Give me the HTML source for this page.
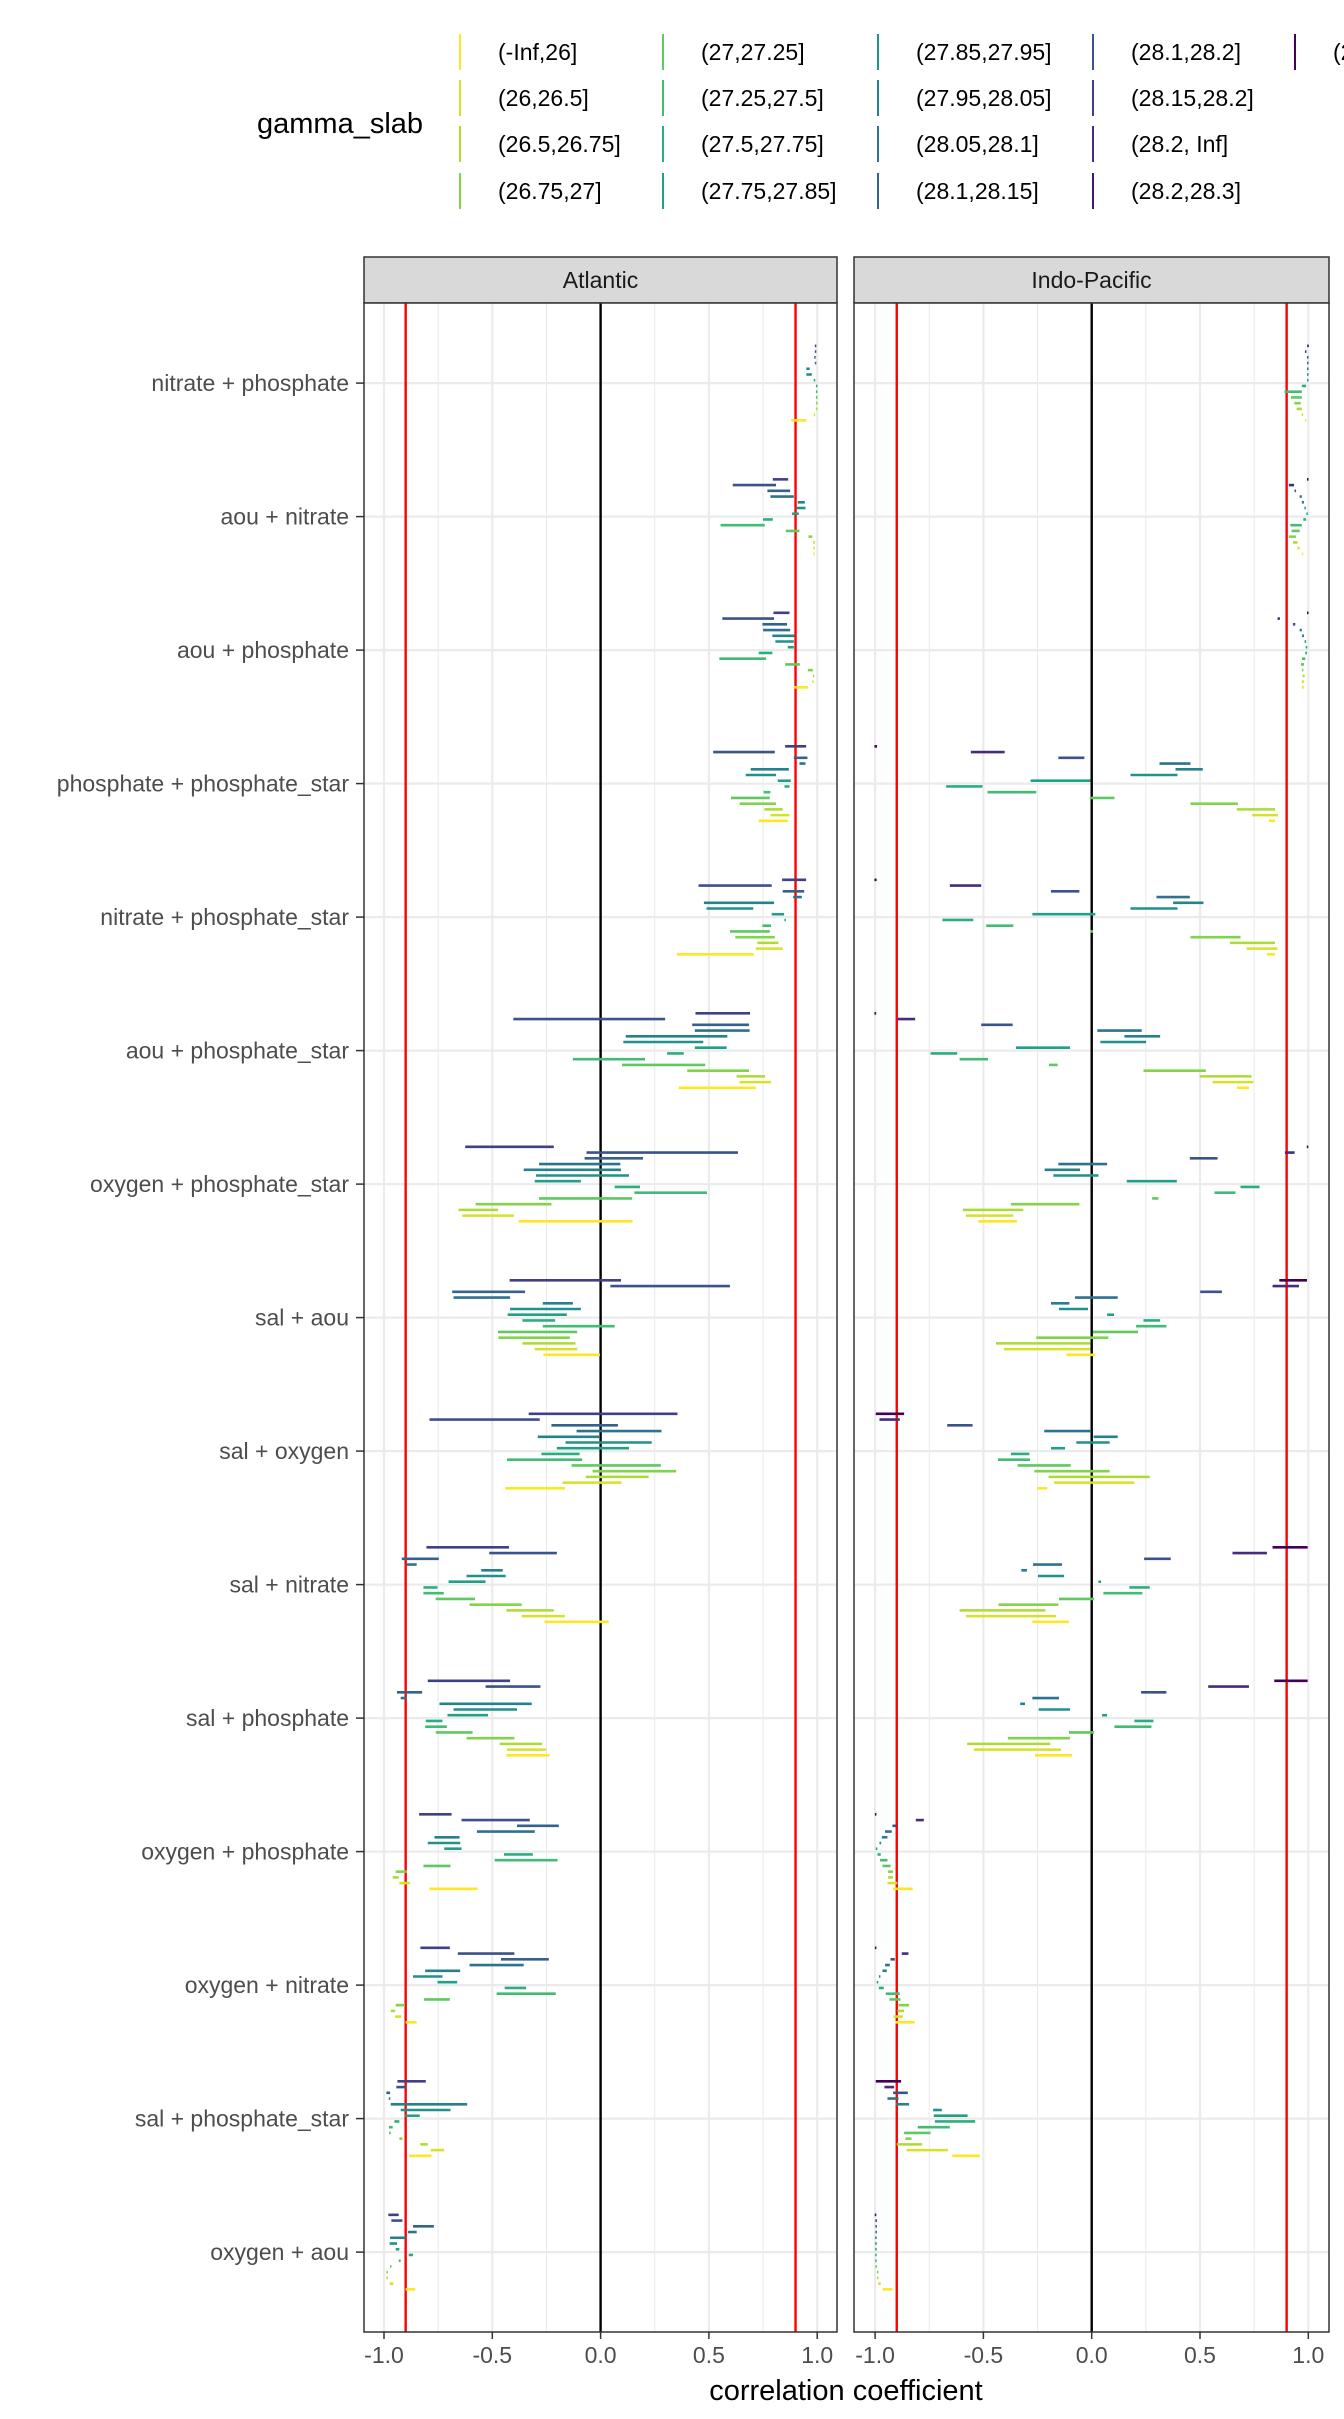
<!DOCTYPE html>
<html><head><meta charset="utf-8"><style>
html,body{margin:0;padding:0;background:#fff;}
svg{display:block;font-family:"Liberation Sans",Arial,sans-serif;}
</style></head><body>
<svg id="chart" width="1344" height="2419" viewBox="0 0 1344 2419" xmlns="http://www.w3.org/2000/svg">
<g id="legend"></g>
<g id="plot"></g>
</svg>
<script>
const categories = ["nitrate + phosphate","aou + nitrate","aou + phosphate","phosphate + phosphate_star","nitrate + phosphate_star","aou + phosphate_star","oxygen + phosphate_star","sal + aou","sal + oxygen","sal + nitrate","sal + phosphate","oxygen + phosphate","oxygen + nitrate","sal + phosphate_star","oxygen + aou"];
const panels = ["Atlantic","Indo-Pacific"];
const legendLabels = ["(-Inf,26]","(26,26.5]","(26.5,26.75]","(26.75,27]","(27,27.25]","(27.25,27.5]","(27.5,27.75]","(27.75,27.85]","(27.85,27.95]","(27.95,28.05]","(28.05,28.1]","(28.1,28.15]","(28.1,28.2]","(28.15,28.2]","(28.2, Inf]","(28.2,28.3]","(28.3,28.4]"];
const xTicks = [-1,-0.5,0,0.5,1];
const xTickLabels = ["-1.0","-0.5","0.0","0.5","1.0"];
const xMinor = [-0.75,-0.25,0.25,0.75];
const thresholds = [-0.9,0.9];
const atlanticRanges = [
[[.99,.995],[.99,.995],[.987,.992],[.99,.995],[.95,.965],[.95,.975],[.985,.99],[.995,1],[.995,1],[.995,1],[.995,1],[.995,1],[.985,.99],[.88,.95]],
[[.795,.866],[.61,.81],[.77,.875],[.784,.892],[.91,.943],[.903,.946],[.884,.915],[.75,.795],[.554,.758],[.855,.918],[.96,.977],[.983,.988],[.983,.988],[.983,.988]],
[[.798,.872],[.562,.801],[.747,.861],[.75,.875],[.793,.895],[.807,.892],[.864,.892],[.73,.793],[.548,.764],[.852,.92],[.957,.98],[.981,.986],[.977,.983],[.892,.957]],
[[.852,.949],[.52,.804],[.892,.955],[.918,.946],[.693,.869],[.67,.81],[.818,.878],[.849,.872],[.753,.784],[.602,.781],[.642,.81],[.756,.841],[.784,.872],[.73,.864]],
[[.838,.949],[.452,.79],[.841,.94],[.889,.929],[.477,.801],[.489,.705],[.79,.847],[.849,.855],[.747,.787],[.597,.781],[.622,.804],[.724,.821],[.716,.841],[.352,.707]],
[[.438,.69],[-.403,.298],[.423,.685],[.435,.688],[.116,.585],[.105,.474],[.435,.582],[.307,.384],[-.128,.205],[.099,.483],[.4,.685],[.628,.759],[.642,.787],[.361,.716]],
[[-.625,-.216],[-.065,.634],[-.074,.196],[-.284,.091],[-.355,.094],[-.298,.131],[-.304,-.091],[.065,.182],[.156,.491],[-.284,.145],[-.577,-.227],[-.656,-.474],[-.639,-.4],[-.378,.148]],
[[-.42,.094],[.045,.597],[-.685,-.349],[-.679,-.418],[-.267,-.128],[-.418,-.091],[-.429,-.156],[-.361,-.21],[-.267,.065],[-.474,-.108],[-.472,-.142],[-.361,-.116],[-.304,-.108],[-.264,-.003]],
[[-.332,.355],[-.79,-.281],[-.227,.08],[-.111,.281],[-.29,-.003],[-.162,.236],[-.202,.131],[-.273,-.097],[-.432,-.085],[-.134,.278],[-.037,.349],[-.068,.222],[-.176,.097],[-.44,-.165]],
[[-.804,-.423],[-.514,-.202],[-.918,-.747],[-.895,-.849],[-.551,-.452],[-.619,-.438],[-.702,-.531],[-.818,-.753],[-.818,-.724],[-.761,-.58],[-.605,-.364],[-.435,-.216],[-.364,-.165],[-.259,.037]],
[[-.798,-.418],[-.531,-.278],[-.94,-.824],[-.923,-.895],[-.744,-.318],[-.679,-.386],[-.707,-.52],[-.807,-.73],[-.81,-.71],[-.761,-.591],[-.619,-.398],[-.466,-.27],[-.432,-.253],[-.435,-.236]],
[[-.838,-.688],[-.642,-.327],[-.386,-.193],[-.571,-.304],[-.767,-.651],[-.798,-.648],[-.722,-.642],[-.446,-.313],[-.489,-.199],[-.818,-.693],[-.946,-.895],[-.96,-.932],[-.929,-.881],[-.79,-.568]],
[[-.832,-.696],[-.659,-.398],[-.46,-.239],[-.605,-.355],[-.81,-.648],[-.866,-.73],[-.753,-.662],[-.443,-.344],[-.48,-.207],[-.815,-.696],[-.946,-.903],[-.969,-.949],[-.949,-.92],[-.9,-.849]],
[[-.938,-.807],[-.943,-.898],[-.989,-.972],[-.977,-.972],[-.969,-.616],[-.923,-.693],[-.903,-.835],[-.952,-.929],[-.977,-.96],[-.977,-.969],[-.929,-.915],[-.832,-.798],[-.784,-.722],[-.884,-.781]],
[[-.98,-.932],[-.966,-.915],[-.866,-.77],[-.889,-.849],[-.972,-.9],[-.974,-.94],[-.946,-.929],[-.886,-.866],[-.932,-.923],[-.972,-.966],[-.988,-.983],[-.988,-.983],[-.974,-.957],[-.9,-.855]]
];
const indoPacificRanges = [
[[.997,1],[.986,.99],[.995,1],[.995,1],[.995,1],[.995,1],[.995,1],[.97,.99],[.89,.97],[.92,.97],[.935,.965],[.946,.97],[.97,.975],[.985,.99]],
[[.995,1],[.91,.934],[.937,.943],[.96,.97],[.97,.98],[.983,.988],[.992,.997],[.977,.99],[.917,.97],[.923,.96],[.91,.943],[.93,.95],[.95,.96],[.97,.977]],
[[.995,1],[.858,.869],[.929,.94],[.96,.97],[.971,.98],[.984,.989],[.989,.994],[.986,.994],[.971,.986],[.966,.98],[.971,.977],[.974,.983],[.97,.98],[.97,.98]],
[[-1.003,-.991],[-.558,-.402],[-.154,-.034],[.313,.456],[.387,.513],[.179,.396],[-.282,-.006],[-.672,-.504],[-.481,-.256],[-.009,.105],[.456,.675],[.67,.846],[.741,.86],[.818,.846]],
[[-1.003,-.993],[-.655,-.51],[-.188,-.057],[.299,.453],[.376,.516],[.179,.396],[-.274,.017],[-.689,-.547],[-.487,-.362],[-.006,.006],[.456,.687],[.638,.846],[.715,.858],[.809,.846]],
[[-1.003,-.995],[-.895,-.815],[-.51,-.365],[.026,.231],[.151,.316],[.04,.251],[-.35,-.1],[-.744,-.621],[-.61,-.479],[-.197,-.157],[.239,.527],[.499,.738],[.558,.746],[.67,.726]],
[[.994,.999],[.892,.937],[.453,.581],[-.154,.071],[-.217,-.054],[-.177,.031],[.162,.393],[.687,.775],[.567,.664],[.279,.308],[-.373,-.057],[-.595,-.316],[-.581,-.362],[-.524,-.345]],
[[.866,.994],[.835,.957],[.501,.601],[-.077,.12],[-.188,-.103],[-.151,-.017],[.071,.103],[.239,.316],[.205,.345],[.006,.214],[-.256,.077],[-.442,-.006],[-.405,-.006],[-.117,.017]],
[[-.997,-.866],[-.98,-.886],[-.667,-.55],[-.219,-.003],[.009,.12],[-.071,.083],[-.188,-.123],[-.373,-.288],[-.433,-.285],[-.342,-.097],[-.265,.083],[-.199,.268],[-.174,.197],[-.251,-.205]],
[[.835,.997],[.65,.809],[.242,.365],[-.271,-.137],[-.325,-.299],[-.248,-.128],[.031,.043],[.174,.268],[.054,.234],[-.151,.011],[-.43,-.154],[-.61,-.214],[-.581,-.165],[-.274,-.105]],
[[.843,.997],[.538,.726],[.228,.345],[-.274,-.151],[-.33,-.308],[-.245,-.1],[.048,.071],[.197,.285],[.105,.276],[-.105,.011],[-.387,-.1],[-.575,-.191],[-.544,-.142],[-.262,-.091]],
[[-1.0,-.995],[-.812,-.775],[-.92,-.9],[-.954,-.923],[-.969,-.943],[-.98,-.972],[-.996,-.99],[-.989,-.974],[-.977,-.943],[-.966,-.929],[-.94,-.917],[-.94,-.917],[-.943,-.897],[-.917,-.826]],
[[-1.0,-.995],[-.877,-.846],[-.929,-.909],[-.954,-.932],[-.966,-.946],[-.982,-.976],[-.992,-.986],[-.983,-.96],[-.951,-.886],[-.934,-.883],[-.892,-.843],[-.897,-.866],[-.915,-.872],[-.906,-.818]],
[[-.997,-.88],[-.957,-.912],[-.917,-.849],[-.943,-.892],[-.906,-.843],[-.732,-.692],[-.729,-.573],[-.724,-.538],[-.803,-.655],[-.866,-.744],[-.86,-.832],[-.9,-.783],[-.855,-.664],[-.644,-.516]],
[[-1,-.996],[-.997,-.993],[-.997,-.993],[-.997,-.993],[-.998,-.994],[-.998,-.994],[-.998,-.994],[-.998,-.994],[-.998,-.994],[-.997,-.993],[-.99,-.986],[-.99,-.986],[-.986,-.974],[-.966,-.92]]
];
const atlanticLevel = [13,12,11,10,9,8,7,6,5,4,3,2,1,0];
const indoLevel = [16,14,12,10,9,8,7,6,5,4,3,2,1,0];

const NS="http://www.w3.org/2000/svg";
function mk(tag, attrs, parent){const e=document.createElementNS(NS,tag);for(const k in attrs)e.setAttribute(k,attrs[k]);parent.appendChild(e);return e;}
const vir=["#440154","#482475","#414487","#355f8d","#2a788e","#21918c","#22a884","#44bf70","#7ad151","#bddf26","#fde725"];
function hex2(c){return [parseInt(c.substr(1,2),16),parseInt(c.substr(3,2),16),parseInt(c.substr(5,2),16)];}
function viridis(t){t=Math.max(0,Math.min(1,t));const p=t*10,i=Math.min(9,Math.floor(p)),f=p-i;const a=hex2(vir[i]),b=hex2(vir[i+1]);return "rgb("+a.map((v,k)=>Math.round(v+(b[k]-v)*f)).join(",")+")";}
function levelColor(k){return viridis(1-k/16);}

const panelX=[[364,837],[854,1329]];
const zeroX=[600.6,1091.7];
const unit=216.6;
function xScale(p,v){return zeroX[p]+unit*v;}
const plotTop=303,plotBottom=2332,band=133.5;
function yScale(i){return plotTop+band*(0.6+i);}
const step=5.73;

const lg=document.getElementById('legend');
const t0=mk('text',{x:257,y:133,'font-size':29,fill:'#000'},lg);
t0.textContent='gamma_slab';


const colX=[460,663,878,1093,1295], rowY=[52,98,144,191];
legendLabels.forEach((lab,k)=>{
  const c=Math.floor(k/4), r=k%4;
  const g=mk('g',{},lg);
  
  
  mk('line',{x1:colX[c],x2:colX[c],y1:rowY[r]-18,y2:rowY[r]+18,stroke:levelColor(k),'stroke-width':2},g);
  const t=mk('text',{x:colX[c]+38,y:rowY[r]+8,'font-size':23,fill:'#000'},g);
  t.textContent=lab;
});

const pl=document.getElementById('plot');
panels.forEach((pname,p)=>{
  const x0=panelX[p][0], x1=panelX[p][1];
  const pg=mk('g',{},pl);
  
  
  const st=mk('rect',{x:x0,y:257,width:x1-x0,height:46,fill:'#d9d9d9',stroke:'#333','stroke-width':1.5},pg);
  
  
  const stt=mk('text',{x:(x0+x1)/2,y:288,'font-size':23,fill:'#1a1a1a','text-anchor':'middle'},pg);
  stt.textContent=pname;
  mk('rect',{x:x0,y:plotTop,width:x1-x0,height:plotBottom-plotTop,fill:'#fff'},pg);
  xMinor.forEach(v=>mk('line',{x1:xScale(p,v),x2:xScale(p,v),y1:plotTop,y2:plotBottom,stroke:'#ebebeb','stroke-width':1.1},pg));
  xTicks.forEach(v=>mk('line',{x1:xScale(p,v),x2:xScale(p,v),y1:plotTop,y2:plotBottom,stroke:'#ebebeb','stroke-width':2.2},pg));
  categories.forEach((c,i)=>mk('line',{x1:x0,x2:x1,y1:yScale(i),y2:yScale(i),stroke:'#ebebeb','stroke-width':2.2},pg));
  const zl=mk('line',{x1:xScale(p,0),x2:xScale(p,0),y1:plotTop,y2:plotBottom,stroke:'#000','stroke-width':2.4},pg);
  
  
  thresholds.forEach(v=>{
    const rl=mk('line',{x1:xScale(p,v),x2:xScale(p,v),y1:plotTop,y2:plotBottom,stroke:'#ff0000','stroke-width':2.4},pg);
    
    
  });
  const data=p?indoPacificRanges:atlanticRanges, lev=p?indoLevel:atlanticLevel;
  data.forEach((rows,i)=>{
    rows.forEach((r,k)=>{
      const y=yScale(i)+(k-6.5)*step;
      let a=xScale(p,r[0]), b=xScale(p,r[1]);
      if(b-a<1.5){const m=(a+b)/2;a=m-0.75;b=m+0.75;}
      const ln=mk('line',{x1:a,x2:b,y1:y,y2:y,stroke:levelColor(lev[k]),'stroke-width':2.6},pg);
      
      
    });
  });
  mk('rect',{x:x0,y:plotTop,width:x1-x0,height:plotBottom-plotTop,fill:'none',stroke:'#333','stroke-width':1.5},pg);
  xTicks.forEach((v,j)=>{
    mk('line',{x1:xScale(p,v),x2:xScale(p,v),y1:plotBottom,y2:plotBottom+7,stroke:'#333','stroke-width':1.5},pg);
    const t=mk('text',{x:xScale(p,v),y:2363,'font-size':23,fill:'#4d4d4d','text-anchor':'middle'},pg);
    t.textContent=xTickLabels[j];
    
    
  });
});
categories.forEach((c,i)=>{
  mk('line',{x1:356,x2:364,y1:yScale(i),y2:yScale(i),stroke:'#333','stroke-width':1.5},pl);
  const t=mk('text',{x:349,y:yScale(i)+8,'font-size':23,fill:'#4d4d4d','text-anchor':'end'},pl);
  t.textContent=c;
  
  
});
const xt=mk('text',{x:846,y:2400,'font-size':29,fill:'#000','text-anchor':'middle'},pl);
xt.textContent='correlation coefficient';


</script>
</body></html>
